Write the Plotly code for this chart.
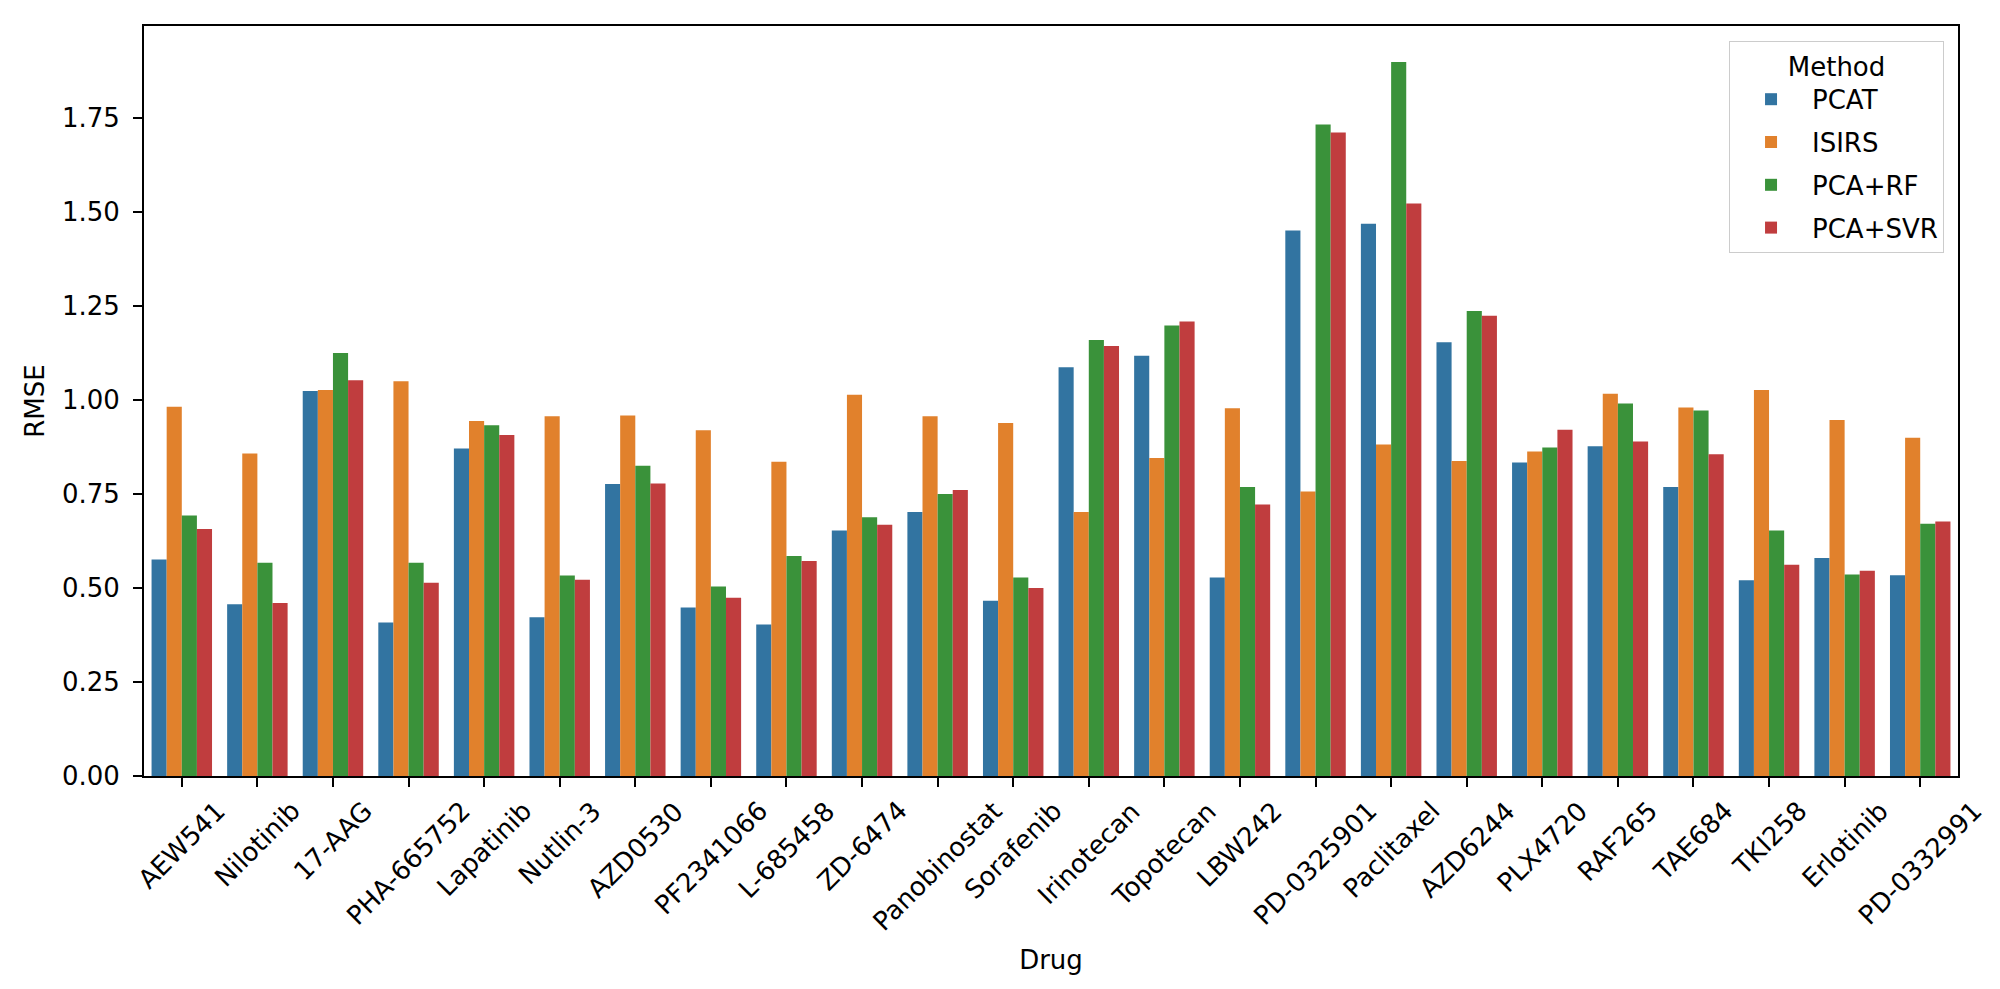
import plotly.graph_objects as go

drugs = ["AEW541", "Nilotinib", "17-AAG", "PHA-665752", "Lapatinib", "Nutlin-3",
         "AZD0530", "PF2341066", "L-685458", "ZD-6474", "Panobinostat", "Sorafenib",
         "Irinotecan", "Topotecan", "LBW242", "PD-0325901", "Paclitaxel", "AZD6244",
         "PLX4720", "RAF265", "TAE684", "TKI258", "Erlotinib", "PD-0332991"]

methods = ["PCAT", "ISIRS", "PCA+RF", "PCA+SVR"]

pcat = [0.576, 0.457, 1.024, 0.408, 0.871, 0.422, 0.777, 0.448, 0.403, 0.653, 0.702, 0.466,
        1.087, 1.118, 0.528, 1.451, 1.469, 1.154, 0.834, 0.877, 0.769, 0.521, 0.580, 0.534]
isirs = [0.982, 0.858, 1.027, 1.050, 0.944, 0.957, 0.959, 0.920, 0.836, 1.014, 0.957, 0.939,
         0.702, 0.846, 0.978, 0.757, 0.882, 0.838, 0.863, 1.017, 0.980, 1.027, 0.947, 0.900]
pca_rf = [0.693, 0.567, 1.125, 0.567, 0.933, 0.533, 0.825, 0.504, 0.585, 0.688, 0.750, 0.528,
          1.160, 1.198, 0.769, 1.733, 1.899, 1.237, 0.874, 0.991, 0.972, 0.653, 0.536, 0.671]
pca_svr = [0.657, 0.460, 1.053, 0.514, 0.907, 0.522, 0.778, 0.474, 0.572, 0.668, 0.761, 0.500,
           1.144, 1.209, 0.722, 1.712, 1.523, 1.224, 0.921, 0.890, 0.856, 0.562, 0.546, 0.677]

series = [pcat, isirs, pca_rf, pca_svr]
colors = ["#3274a1", "#e1812c", "#3a923a", "#c03d3e"]

FONT = "DejaVu Sans"
FS = 26

fig = go.Figure()
for name, vals, col in zip(methods, series, colors):
    fig.add_trace(go.Bar(x=drugs, y=vals, name=name, legendgroup=name,
                         marker=dict(color=col, line=dict(width=0))))

# rotated, centred category labels (matplotlib style)
for d in drugs:
    fig.add_annotation(x=d, xref="x", y=0, yref="paper", text=d, showarrow=False,
                       textangle=-45, xanchor="center", yanchor="top", yshift=-17,
                       font=dict(family=FONT, size=FS, color="black"))

fig.update_layout(
    width=2000, height=989,
    margin=dict(l=136, r=50, t=18, b=221, autoexpand=False),
    paper_bgcolor="white", plot_bgcolor="white",
    barmode="group", bargap=0.2, bargroupgap=0,
    font=dict(family=FONT, size=FS, color="black"),
    legend=dict(
        title=dict(text="Method", side="top center", font=dict(family=FONT, size=FS)),
        x=0.9923, y=0.98, xanchor="right", yanchor="top",
        bgcolor="rgba(255,255,255,0.8)", bordercolor="#cccccc", borderwidth=1,
        font=dict(family=FONT, size=FS), itemwidth=72, tracegroupgap=6,
    ),
    showlegend=True,
)

fig.update_xaxes(
    type="category", range=[-0.5, len(drugs) - 0.5],
    showline=True, linecolor="black", linewidth=2, mirror=True,
    ticks="outside", ticklen=9, tickwidth=2, tickcolor="black",
    showticklabels=False, showgrid=False, zeroline=False,
    title=dict(text="Drug", standoff=165, font=dict(family=FONT, size=FS)),
)
fig.update_yaxes(
    range=[0, 1.995], dtick=0.25, tick0=0, tickformat=".2f",
    showline=True, linecolor="black", linewidth=2, mirror=True,
    ticks="outside", ticklen=9, tickwidth=2, tickcolor="black",
    ticklabelstandoff=8,
    showgrid=False, zeroline=False,
    tickfont=dict(family=FONT, size=FS),
    title=dict(text="RMSE", standoff=10, font=dict(family=FONT, size=FS)),
)

fig.write_html("out.html")
